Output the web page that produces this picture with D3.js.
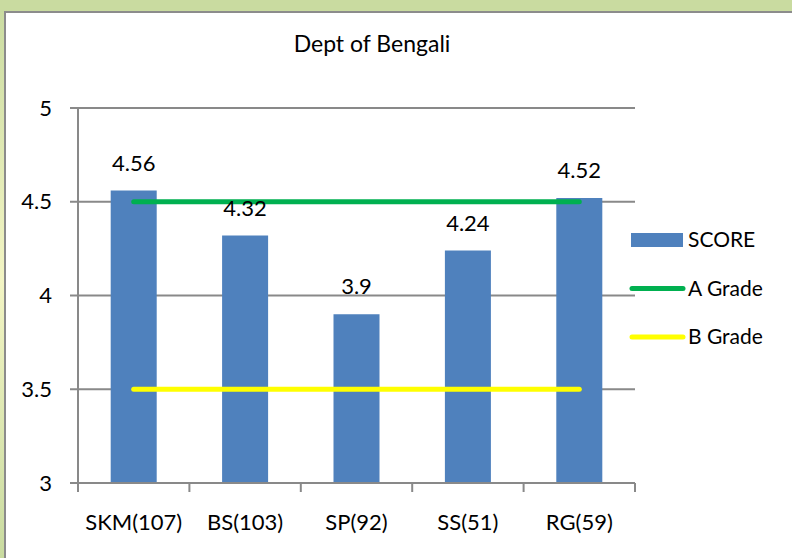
<!DOCTYPE html>
<html>
<head>
<meta charset="utf-8">
<script src="https://cdn.jsdelivr.net/npm/d3@7"></script>
<style>
  body { margin: 0; }
  svg { display: block; font-family: Lato, "Open Sans", sans-serif; }
</style>
</head>
<body>
<svg id="chart" width="792" height="558"></svg>
<script>
const categories = ["SKM(107)", "BS(103)", "SP(92)", "SS(51)", "RG(59)"];
const scores = [4.56, 4.32, 3.9, 4.24, 4.52];
const aGrade = 4.5;
const bGrade = 3.5;
const yTicks = [3, 3.5, 4, 4.5, 5];
const legendItems = ["SCORE", "A Grade", "B Grade"];

const svg = d3.select("#chart");

// frame
const grad = svg.append("defs").append("linearGradient")
    .attr("id", "side").attr("x1", 0).attr("y1", 0).attr("x2", 0).attr("y2", 1);
grad.append("stop").attr("offset", "0%").attr("stop-color", "#c9dba0");
grad.append("stop").attr("offset", "50%").attr("stop-color", "#f3f5c4");
grad.append("stop").attr("offset", "100%").attr("stop-color", "#c9dba0");

svg.append("rect").attr("width", 792).attr("height", 558).attr("fill", "url(#side)");
svg.append("rect").attr("width", 792).attr("height", 12).attr("fill", "#c9dba0");
svg.append("rect").attr("x", 5).attr("y", 12).attr("width", 787).attr("height", 546).attr("fill", "#fff");
svg.append("path").attr("d", "M5,558V12H792")
    .attr("fill", "none").attr("stroke", "#8c8c8c").attr("stroke-width", 2);

const margin = { top: 108, left: 78 },
    width = 557,
    height = 375;

const g = svg.append("g").attr("transform", `translate(${margin.left},${margin.top})`);

const x = d3.scaleBand().domain(categories).range([0, width]).paddingInner(0.587).paddingOuter(0.2935);
const xEdges = d3.scaleBand().domain(categories).range([0, width]);
const y = d3.scaleLinear().domain([3, 5]).range([height, 0]);

// gridlines
g.selectAll(".grid").data(yTicks.slice(1)).enter().append("line")
    .attr("x1", -8).attr("x2", width)
    .attr("y1", d => y(d)).attr("y2", d => y(d))
    .attr("stroke", "#898989").attr("stroke-width", 2);

// y axis
g.append("line").attr("x1", 0).attr("x2", 0).attr("y1", 0).attr("y2", height)
    .attr("stroke", "#898989").attr("stroke-width", 2);
g.selectAll(".ylab").data(yTicks).enter().append("text")
    .attr("x", -26).attr("y", d => y(d)).attr("dy", "0.35em")
    .attr("text-anchor", "end").attr("font-size", 22).attr("fill", "#000")
    .text(d => d);

// bars
g.selectAll(".bar").data(scores).enter().append("rect")
    .attr("x", (d, i) => x(categories[i]))
    .attr("y", d => y(d))
    .attr("width", x.bandwidth())
    .attr("height", d => height - y(d))
    .attr("fill", "#4f81bd");

// x axis
g.append("line").attr("x1", -8).attr("x2", width).attr("y1", height).attr("y2", height)
    .attr("stroke", "#898989").attr("stroke-width", 2);
const edges = categories.map(c => xEdges(c)).concat([width]);
g.selectAll(".xtick").data(edges).enter().append("line")
    .attr("x1", d => d).attr("x2", d => d)
    .attr("y1", height).attr("y2", height + 9)
    .attr("stroke", "#898989").attr("stroke-width", 2);
g.selectAll(".xlab").data(categories).enter().append("text")
    .attr("x", d => x(d) + x.bandwidth() / 2).attr("y", height + 47)
    .attr("text-anchor", "middle").attr("font-size", 22).attr("fill", "#000")
    .text(d => d);

// grade lines
const x0 = x(categories[0]) + x.bandwidth() / 2;
const x1 = x(categories[categories.length - 1]) + x.bandwidth() / 2;
[[aGrade, "#00b050"], [bGrade, "#ffff00"]].forEach(([v, c]) => {
    g.append("line").attr("x1", x0).attr("x2", x1)
        .attr("y1", y(v)).attr("y2", y(v))
        .attr("stroke", c).attr("stroke-width", 5).attr("stroke-linecap", "round");
});

// data labels
g.selectAll(".val").data(scores).enter().append("text")
    .attr("x", (d, i) => x(categories[i]) + x.bandwidth() / 2)
    .attr("y", d => y(d) - 20)
    .attr("text-anchor", "middle").attr("font-size", 22).attr("fill", "#000")
    .text(d => d);

// title
svg.append("text").attr("x", 372).attr("y", 52)
    .attr("text-anchor", "middle").attr("font-size", 23).attr("fill", "#000")
    .text("Dept of Bengali");

// legend
const legend = svg.append("g").attr("transform", "translate(631,240)");
const lg = legend.selectAll("g").data(legendItems).enter().append("g")
    .attr("transform", (d, i) => `translate(0,${i * 48.5})`);
lg.filter((d, i) => i === 0).append("rect")
    .attr("x", 0).attr("y", -7).attr("width", 52).attr("height", 14).attr("fill", "#4f81bd");
lg.filter((d, i) => i > 0).append("line")
    .attr("x1", 1).attr("x2", 52).attr("y1", 0).attr("y2", 0)
    .attr("stroke", (d, i) => i === 0 ? "#00b050" : "#ffff00")
    .attr("stroke-width", 5).attr("stroke-linecap", "round");
lg.append("text").attr("x", 57).attr("y", 0).attr("dy", "0.35em")
    .attr("font-size", 21).attr("fill", "#000")
    .text(d => d);
</script>
</body>
</html>
